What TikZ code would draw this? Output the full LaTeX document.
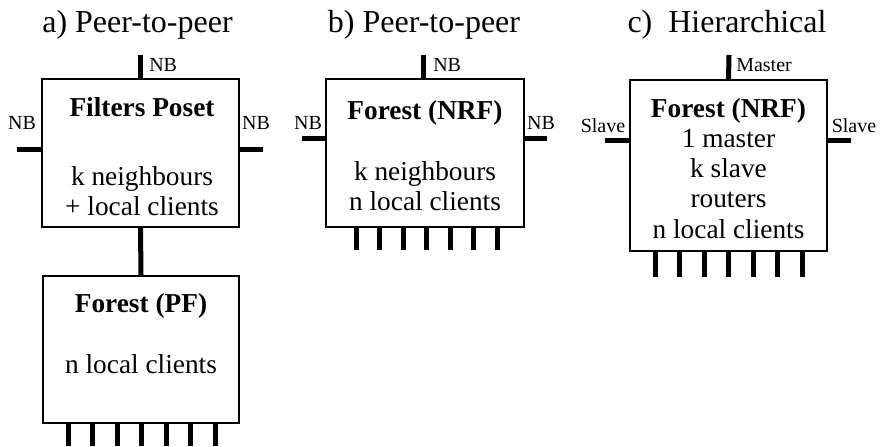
\documentclass[tikz,border=0pt]{standalone}
\usepackage{fontspec}
\setmainfont{Liberation Serif}
\usetikzlibrary{positioning}

\begin{document}
\begin{tikzpicture}[x=0.75pt,y=-0.75pt]
        \tikzset{box/.style = {draw, line width=1.5pt, inner sep=0pt}}
        \tikzset{stub/.style = {line width=3.75pt}}
        \tikzset{txt/.style = {anchor=base, inner sep=0pt, font=\fontsize{20.5}{24}\selectfont}}
        \tikzset{lbl/.style = {inner sep=0pt, font=\fontsize{15}{18}\selectfont}}
        \tikzset{ttl/.style = {anchor=base, inner sep=0pt, font=\fontsize{24}{28}\selectfont}}

        \useasboundingbox (0,0) rectangle (880,446);

        \node[ttl] (ta) at (137.5,32) {a) Peer-to-peer};
        \node[ttl] (tb) at (424,32) {b) Peer-to-peer};
        \node[ttl] (tc) at (727,32) {c)\ \ Hierarchical};

        \node[box, minimum width=147.75pt, minimum height=111pt] (poset) at (140.5,153) {};
        \node[box, minimum width=147pt, minimum height=110.25pt] (pf) at (141,349.5) {};
        \node[box, minimum width=148.5pt, minimum height=111pt] (nrf) at (425,153) {};
        \node[box, minimum width=147.75pt, minimum height=128.25pt] (hier) at (728.5,165.5) {};

        \node[txt] (posetname) at (142,116) {\textbf{Filters Poset}};
        \node[txt] (posetk) at (142,185) {k neighbours};
        \node[txt] (posetloc) at (142,215) {+ local clients};

        \node[txt] (pfname) at (141,312) {\textbf{Forest (PF)}};
        \node[txt] (pfloc) at (141,373) {n local clients};

        \node[txt] (nrfname) at (425,119) {\textbf{Forest (NRF)}};
        \node[txt] (nrfk) at (425,180) {k neighbours};
        \node[txt] (nrfloc) at (425,210) {n local clients};

        \node[txt] (hiername) at (728.5,117) {\textbf{Forest (NRF)}};
        \node[txt] (hierm) at (728.5,147) {1 master};
        \node[txt] (hiers) at (728.5,177) {k slave};
        \node[txt] (hierr) at (728.5,207) {routers};
        \node[txt] (hierloc) at (728.5,238) {n local clients};

        \coordinate (posetT) at (140.5,55);
        \coordinate (posetL) at (17,149);
        \coordinate (posetR) at (263,149);
        \coordinate (nrfT) at (423,55);
        \coordinate (nrfL) at (302,138);
        \coordinate (nrfR) at (547,138);
        \coordinate (hierT) at (729,55);
        \coordinate (hierL) at (605,140);
        \coordinate (hierR) at (851,140);

        \draw[stub] (poset.north) -- (posetT);
        \draw[stub] (posetL) -- (posetL -| poset.west);
        \draw[stub] (posetR) -- (posetR -| poset.east);
        \draw[stub] (poset.south) -- (pf.north);

        \draw[stub] (nrfT |- nrf.north) -- (nrfT);
        \draw[stub] (nrfL) -- (nrfL -| nrf.west);
        \draw[stub] (nrfR) -- (nrfR -| nrf.east);

        \draw[stub] (hier.north) -- (hierT);
        \draw[stub] (hierL) -- (hierL -| hier.west);
        \draw[stub] (hierR) -- (hierR -| hier.east);

        \foreach \i in {0,...,6} {
            \coordinate (pfc\i) at ({68+24.5*\i},446);
            \draw[stub] (pfc\i |- pf.south) -- (pfc\i);
            \coordinate (nrfc\i) at ({356+23.5*\i},250);
            \draw[stub] (nrfc\i |- nrf.south) -- (nrfc\i);
            \coordinate (hierc\i) at ({655+24.5*\i},277);
            \draw[stub] (hierc\i |- hier.south) -- (hierc\i);
        }

        \node[lbl, anchor=west] (posetnbt) at (149,65) {NB};
        \node[lbl] (posetnbl) at (22,123) {NB};
        \node[lbl] (posetnbr) at (256,123) {NB};

        \node[lbl, anchor=west] (nrfnbt) at (433,65) {NB};
        \node[lbl] (nrfnbl) at (308,123) {NB};
        \node[lbl] (nrfnbr) at (541,123) {NB};

        \node[lbl, anchor=west] (hiermaster) at (736,65) {Master};
        \node[lbl] (hierslavel) at (603,126) {Slave};
        \node[lbl] (hierslaver) at (854,126) {Slave};
\end{tikzpicture}
\end{document}
